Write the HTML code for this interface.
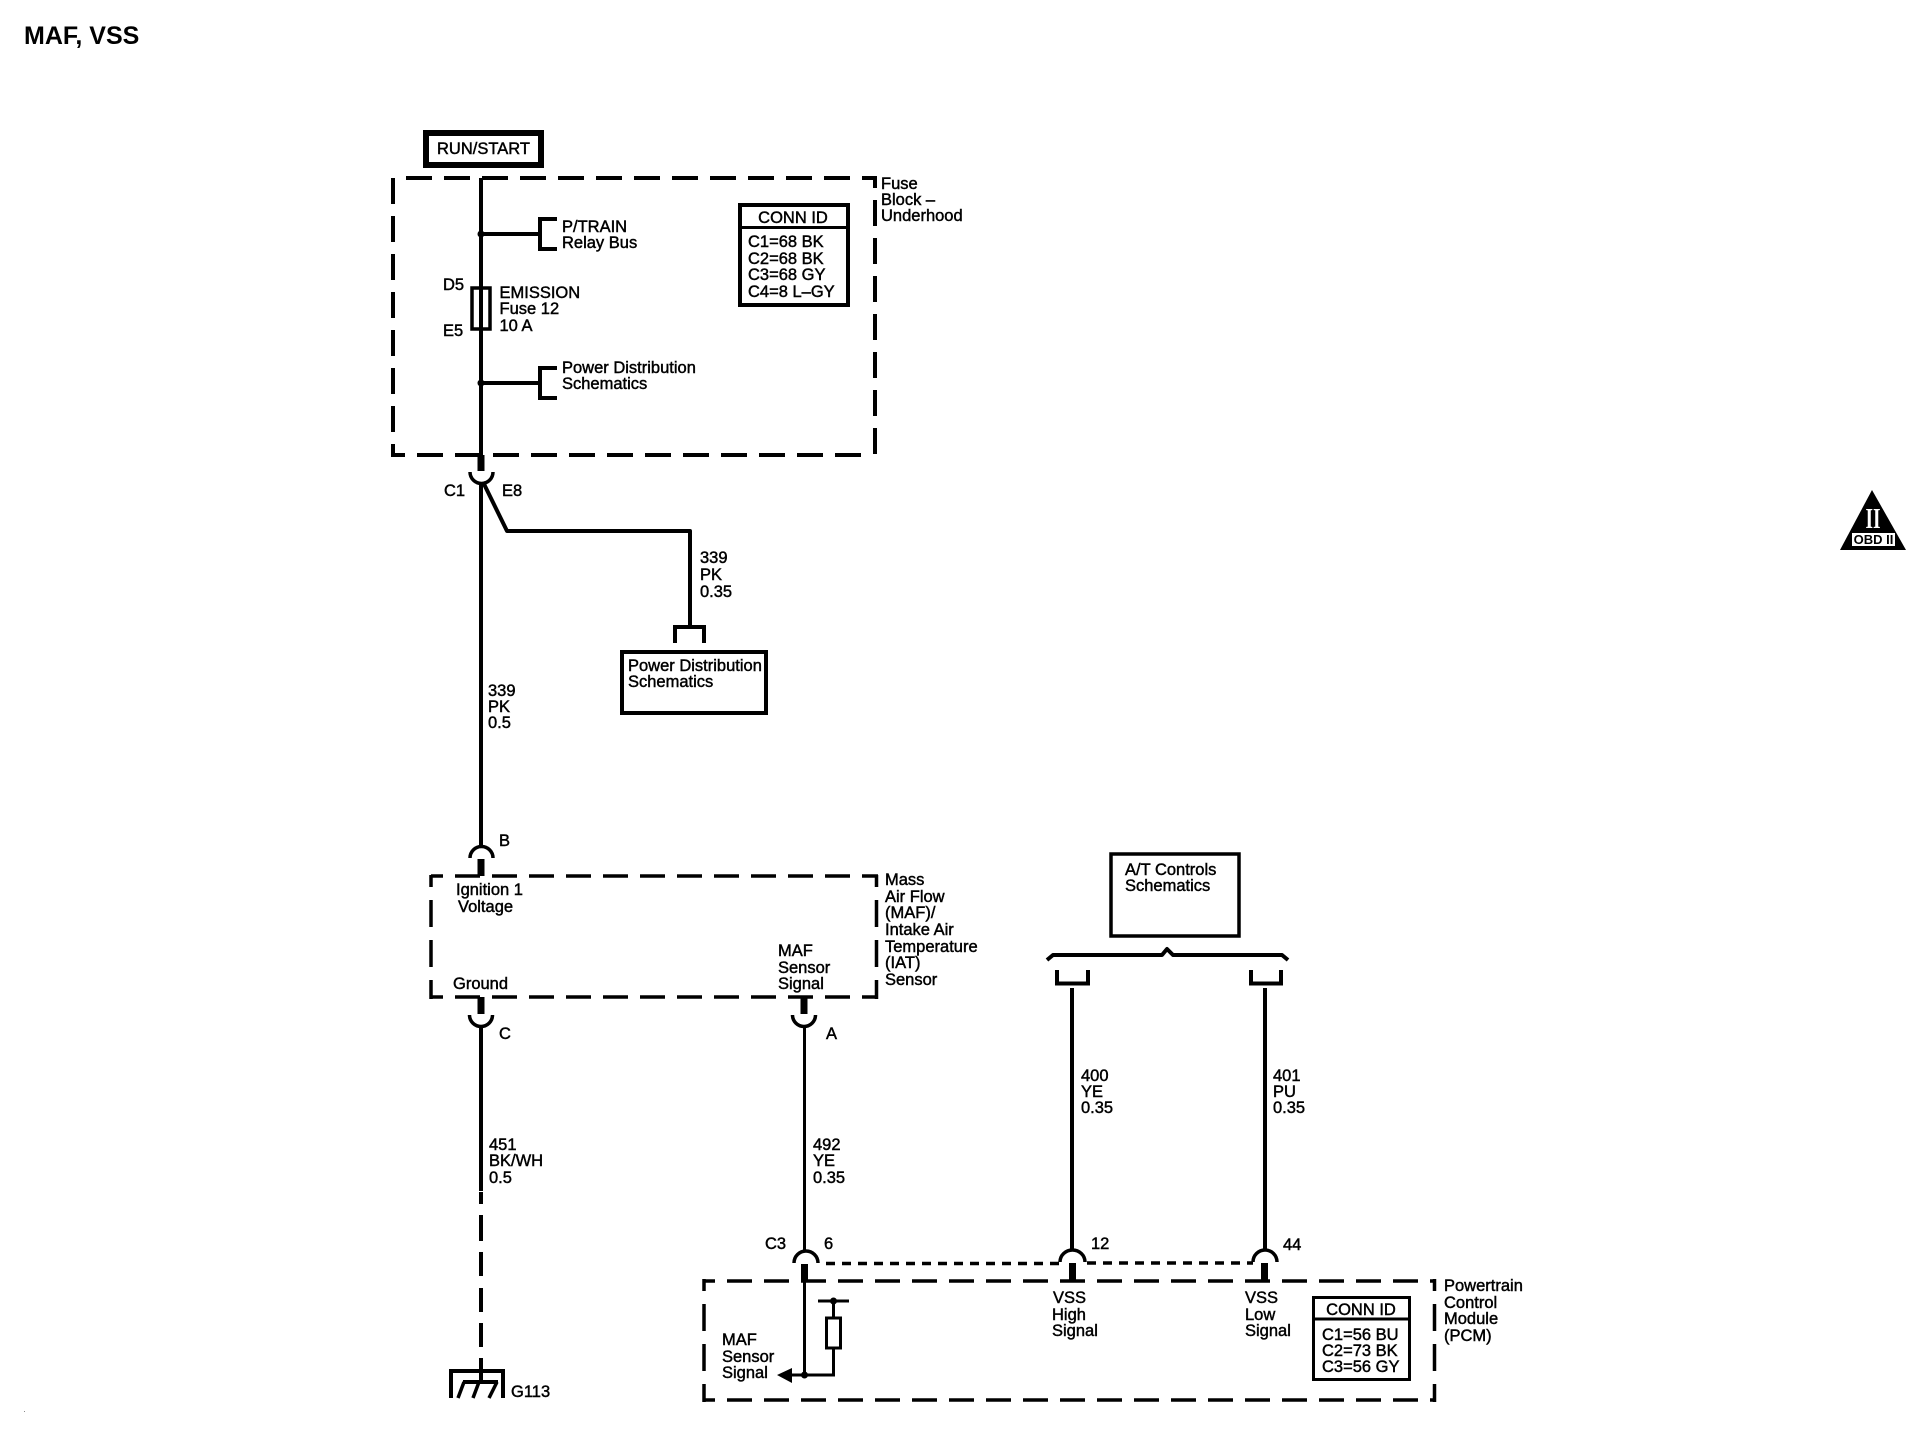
<!DOCTYPE html>
<html><head><meta charset="utf-8"><title>MAF, VSS</title>
<style>
html,body{margin:0;padding:0;background:#fff;width:1922px;height:1440px;overflow:hidden}
svg{display:block}
text{font-family:"Liberation Sans",sans-serif;font-size:16.5px;fill:#000;stroke:#000;stroke-width:.45}
.w{fill:none;stroke:#000;stroke-width:4}
.t{fill:none;stroke:#000;stroke-width:3}
.a{fill:none;stroke:#000;stroke-width:3.5}
</style></head><body>
<svg width="1922" height="1440" viewBox="0 0 1922 1440" xmlns="http://www.w3.org/2000/svg">
<rect width="1922" height="1440" fill="#fff"/>
<text x="24" y="44" style="font-size:25px;font-weight:bold;stroke:none">MAF, VSS</text>

<!-- RUN/START -->
<rect x="426" y="133" width="115" height="32" fill="#fff" stroke="#000" stroke-width="6"/>
<text x="437" y="154">RUN/START</text>

<!-- Fuse block dashed -->
<g fill="none" stroke="#000" stroke-width="4">
<path d="M406,178H877" stroke-dasharray="26 12"/>
<path d="M393,178V457" stroke-dasharray="26 12"/>
<path d="M391,455H866" stroke-dasharray="26 12" stroke-dashoffset="12"/>
<path d="M875,176V457" stroke-dasharray="26 12" stroke-dashoffset="14"/>
</g>
<path class="w" d="M481,178V288M481,329V455"/>
<rect x="472" y="288" width="18" height="41" fill="none" stroke="#000" stroke-width="3.5"/>
<path class="w" d="M481,288V329"/>
<circle cx="481" cy="234" r="3.5"/><circle cx="481" cy="383" r="3.5"/>
<path class="w" d="M481,234H540M557,219H540V249H557M481,383H540M557,368H540V398H557"/>
<text x="562" y="232">P/TRAIN</text><text x="562" y="248">Relay Bus</text>
<text x="562" y="373">Power Distribution</text><text x="562" y="389">Schematics</text>
<text x="443" y="290">D5</text><text x="443" y="336">E5</text>
<text x="499.500" y="298">EMISSION</text><text x="499.500" y="314">Fuse 12</text><text x="499.500" y="331">10 A</text>
<rect x="740" y="205" width="108" height="100" fill="#fff" stroke="#000" stroke-width="4"/>
<path class="t" d="M740,227.500H848"/>
<text x="793" y="223" text-anchor="middle">CONN ID</text>
<text x="748" y="247">C1=68 BK</text><text x="748" y="264">C2=68 BK</text><text x="748" y="280">C3=68 GY</text><text x="748" y="297">C4=8 L&#8211;GY</text>
<text x="881" y="189">Fuse</text><text x="881" y="205">Block &#8211;</text><text x="881" y="221">Underhood</text>

<!-- C1 connector -->
<path d="M481,455V471" fill="none" stroke="#000" stroke-width="7"/>
<path class="a" d="M470,472A11.500,11.500 0 0 0 493,472"/>
<path class="w" d="M481,482V847"/>
<path class="w" stroke-linejoin="round" d="M483,482L507,531H690V627"/>
<path class="w" d="M675,643V627H704V643"/>
<text x="444" y="496">C1</text><text x="502" y="496">E8</text>
<text x="700" y="563">339</text><text x="700" y="580">PK</text><text x="700" y="597">0.35</text>
<text x="488" y="696">339</text><text x="488" y="712">PK</text><text x="488" y="728">0.5</text>
<rect x="622" y="652" width="144" height="61" fill="#fff" stroke="#000" stroke-width="4"/>
<text x="628" y="671">Power Distribution</text><text x="628" y="687">Schematics</text>

<!-- B connector -->
<path class="a" d="M470,858A11.500,11.500 0 0 1 493,858"/>
<path d="M481,859V876" fill="none" stroke="#000" stroke-width="7"/>
<text x="499" y="846">B</text>

<!-- MAF dashed box -->
<g fill="none" stroke="#000" stroke-width="3.500">
<path d="M431,876H878" stroke-dasharray="25 12" stroke-dashoffset="13"/>
<path d="M431,997H878" stroke-dasharray="25 12" stroke-dashoffset="13"/>
<path d="M431,875V999" stroke-dasharray="27 13" stroke-dashoffset="15"/>
<path d="M876.500,875V999" stroke-dasharray="27 13" stroke-dashoffset="15"/>
</g>
<text x="456" y="895">Ignition 1</text><text x="458" y="912">Voltage</text>
<text x="453" y="989">Ground</text>
<text x="778" y="956">MAF</text><text x="778" y="973">Sensor</text><text x="778" y="989">Signal</text>
<text x="885" y="885">Mass</text><text x="885" y="902">Air Flow</text><text x="885" y="918">(MAF)/</text><text x="885" y="935">Intake Air</text><text x="885" y="952">Temperature</text><text x="885" y="968">(IAT)</text><text x="885" y="985">Sensor</text>

<!-- C connector + ground -->
<path d="M481,997V1014M804,997V1014" fill="none" stroke="#000" stroke-width="7"/>
<path class="a" d="M469.500,1015A11.500,11.500 0 0 0 492.500,1015M792.500,1015A11.500,11.500 0 0 0 815.500,1015"/>
<path class="w" d="M481,1026V1191"/>
<path class="w" d="M481,1192V1204M481,1215V1241M481,1252V1276M481,1288V1312M481,1323V1347M481,1358V1382"/>
<path class="w" d="M451,1398V1371H503V1398"/>
<path class="w" d="M463,1382H498" />
<path d="M464,1382L458,1398M479,1382L473,1398M497,1382L489,1398" fill="none" stroke="#000" stroke-width="3.500"/>
<text x="511" y="1397">G113</text>
<text x="499" y="1039">C</text><text x="826" y="1039">A</text>
<text x="489" y="1150">451</text><text x="489" y="1166">BK/WH</text><text x="489" y="1183">0.5</text>
<text x="813" y="1150">492</text><text x="813" y="1166">YE</text><text x="813" y="1183">0.35</text>

<!-- MAF signal wire -->
<path class="t" d="M804.500,1026V1252"/>
<path class="a" d="M794,1263A12,12 0 0 1 818,1263"/>
<path d="M804.500,1264V1282" fill="none" stroke="#000" stroke-width="7"/>
<text x="765" y="1249">C3</text><text x="824" y="1249">6</text>

<!-- dotted -->
<path d="M826,1263.500H1059" fill="none" stroke="#000" stroke-width="3.500" stroke-dasharray="9 7"/>
<path d="M1087,1263H1253" fill="none" stroke="#000" stroke-width="3.500" stroke-dasharray="9 7"/>

<!-- PCM box -->
<g fill="none" stroke="#000" stroke-width="3.500">
<path d="M704,1281H1436" stroke-dasharray="25 12" stroke-dashoffset="14"/>
<path d="M704,1400H1436" stroke-dasharray="25 12" stroke-dashoffset="14"/>
<path d="M704,1279V1402" stroke-dasharray="27 13" stroke-dashoffset="15"/>
<path d="M1434.500,1279V1402" stroke-dasharray="27 13" stroke-dashoffset="15"/>
</g>
<path class="t" d="M804.500,1281V1375H833.500V1349"/>
<path d="M777,1375L792,1368V1383Z" fill="#000"/>
<path class="t" d="M792,1375H804"/>
<circle cx="804.500" cy="1375" r="3.500"/>
<rect x="826.500" y="1318" width="14" height="30" fill="#fff" stroke="#000" stroke-width="3"/>
<path class="t" d="M833.500,1301V1318M818,1301H849"/>
<circle cx="833.500" cy="1301" r="3.500"/>
<text x="722" y="1345">MAF</text><text x="722" y="1362">Sensor</text><text x="722" y="1378">Signal</text>

<!-- VSS -->
<rect x="1111" y="854" width="128" height="82" fill="#fff" stroke="#000" stroke-width="3.500"/>
<text x="1125" y="875">A/T Controls</text><text x="1125" y="891">Schematics</text>
<path class="w" stroke-linejoin="round" d="M1047,960L1053,955H1162L1167,949L1173,955H1282L1288,960"/>
<path class="w" d="M1057,970V983.500H1088V970M1251,970V983.500H1281V970"/>
<path class="w" d="M1072,988V1250M1265,988V1250"/>
<path class="a" d="M1060,1262A12.500,12 0 0 1 1085,1262M1253,1262A12,12 0 0 1 1277,1262"/>
<path d="M1072.500,1263V1282M1264.500,1263V1282" fill="none" stroke="#000" stroke-width="7"/>
<text x="1081" y="1081">400</text><text x="1081" y="1097">YE</text><text x="1081" y="1113">0.35</text>
<text x="1273" y="1081">401</text><text x="1273" y="1097">PU</text><text x="1273" y="1113">0.35</text>
<text x="1091" y="1249">12</text><text x="1283" y="1250">44</text>
<text x="1053" y="1303">VSS</text><text x="1052" y="1320">High</text><text x="1052" y="1336">Signal</text>
<text x="1245" y="1303">VSS</text><text x="1245" y="1320">Low</text><text x="1245" y="1336">Signal</text>
<rect x="1313.500" y="1297.500" width="96" height="82" fill="#fff" stroke="#000" stroke-width="3"/>
<path class="t" d="M1313,1319H1410"/>
<text x="1361" y="1315" text-anchor="middle">CONN ID</text>
<text x="1322" y="1340">C1=56 BU</text><text x="1322" y="1356">C2=73 BK</text><text x="1322" y="1372">C3=56 GY</text>
<text x="1444" y="1291">Powertrain</text><text x="1444" y="1308">Control</text><text x="1444" y="1324">Module</text><text x="1444" y="1341">(PCM)</text>

<!-- OBD II badge -->
<path d="M1872,490L1906,550H1840Z" fill="#000"/>
<rect x="1852" y="533" width="43" height="13" fill="#fff"/>
<text x="1873.500" y="544" text-anchor="middle" style="font-size:13px;font-weight:bold;stroke:none">OBD II</text>
<text x="1865.500" y="528" textLength="15" lengthAdjust="spacingAndGlyphs" style="font-family:'Liberation Serif',serif;font-size:29px;font-weight:bold;fill:#fff;stroke:none">II</text>

<rect x="24" y="1411" width="1" height="1" fill="#888"/>
</svg>
</body></html>
